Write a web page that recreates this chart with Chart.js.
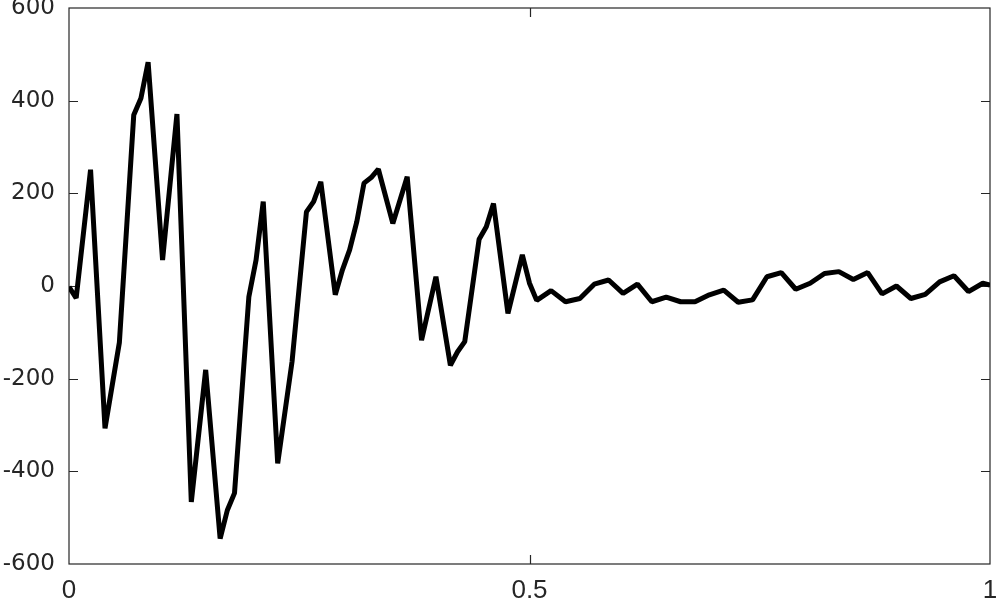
<!DOCTYPE html>
<html>
<head>
<meta charset="utf-8">
<title>signal</title>
<script src="https://cdn.jsdelivr.net/npm/chart.js@4/dist/chart.umd.min.js"></script>
<style>
  html, body { margin: 0; padding: 0; background: #fff; }
  #wrap { width: 997px; height: 598px; position: relative; }
</style>
</head>
<body>
<div id="wrap"><canvas id="sigChart"></canvas></div>
<script>
// положения вершин по оси x (доли от 0 до 1)
const xValues = [
  0, 0.0078, 0.0234, 0.0391, 0.0547, 0.0703, 0.0781, 0.0859, 0.1016, 0.1172,
  0.1328, 0.1484, 0.1641, 0.1719, 0.1797, 0.1953, 0.2031, 0.2109, 0.2266, 0.2422,
  0.2578, 0.2656, 0.2734, 0.2891, 0.2969, 0.3047, 0.3125, 0.3203, 0.3281, 0.3359,
  0.3516, 0.3672, 0.3828, 0.3984, 0.4141, 0.4219, 0.4297, 0.4453, 0.4531, 0.4609,
  0.4766, 0.4922, 0.5, 0.5078, 0.5234, 0.5391, 0.5547, 0.5703, 0.5859, 0.6016,
  0.6172, 0.6328, 0.6484, 0.6641, 0.6797, 0.6953, 0.7109, 0.7266, 0.7422, 0.7578,
  0.7734, 0.7891, 0.8047, 0.8203, 0.8359, 0.8516, 0.8672, 0.8828, 0.8984, 0.9141,
  0.9297, 0.9453, 0.9609, 0.9766, 0.9922, 1
];

// значения сигнала в этих точках
const yValues = [
  -2, -26, 251, -307, -122, 369, 405, 483, 56, 371,
  -466, -181, -545, -484, -447, -23, 56, 182, -383, -163,
  160, 182, 225, -19, 35, 78, 139, 222, 234, 252,
  135, 236, -117, 20, -171, -142, -120, 101, 128, 178,
  -59, 67, 6, -31, -10, -34, -27, 4, 13, -16,
  4, -34, -24, -34, -34, -19, -9, -35, -30, 20,
  29, -7, 6, 27, 31, 14, 29, -17, 0, -27,
  -18, 9, 22, -12, 6, 2
];

// подписи осей
const xTicks = [0, 0.5, 1];
const yTicks = [-600, -400, -200, 0, 200, 400, 600];

const axisColor = '#262626';

// рамка и засечки внутрь (как в MATLAB)
const framePlugin = {
  id: 'frame',
  beforeDatasetsDraw(chart) {
    const { ctx, chartArea: a, scales } = chart;
    ctx.save();
    ctx.strokeStyle = axisColor;
    ctx.lineWidth = 1.2;
    ctx.strokeRect(a.left, a.top, a.right - a.left, a.bottom - a.top);
    const len = 9;
    ctx.beginPath();
    yTicks.forEach(v => {
      if (v === yTicks[0] || v === yTicks[yTicks.length - 1]) return;
      const y = Math.round(scales.y.getPixelForValue(v)) + 0.5;
      ctx.moveTo(a.left, y); ctx.lineTo(a.left + len, y);
      ctx.moveTo(a.right, y); ctx.lineTo(a.right - len, y);
    });
    xTicks.forEach(v => {
      if (v === xTicks[0] || v === xTicks[xTicks.length - 1]) return;
      const x = Math.round(scales.x.getPixelForValue(v)) + 0.5;
      ctx.moveTo(x, a.bottom); ctx.lineTo(x, a.bottom - len);
      ctx.moveTo(x, a.top); ctx.lineTo(x, a.top + len);
    });
    ctx.stroke();
    ctx.restore();
  }
};

const points = xValues.map((x, i) => ({ x: x, y: yValues[i] }));

new Chart(document.getElementById('sigChart'), {
  type: 'line',
  data: {
    datasets: [{
      data: points,
      borderColor: '#000',
      borderWidth: 5,
      borderJoinStyle: 'bevel',
      pointRadius: 0,
      tension: 0,
      fill: false
    }]
  },
  options: {
    responsive: true,
    maintainAspectRatio: false,
    animation: false,
    layout: { padding: { top: 8, right: 7, left: 0, bottom: 0 } },
    plugins: { legend: { display: false }, tooltip: { enabled: false } },
    scales: {
      x: {
        type: 'linear',
        min: 0, max: 1,
        afterBuildTicks: s => { s.ticks = xTicks.map(v => ({ value: v })); },
        afterFit: s => { s.height = 34; s.paddingLeft = 0; s.paddingRight = 0; },
        grid: { display: false, drawTicks: false },
        border: { display: false },
        ticks: {
          color: axisColor,
          padding: 11,
          maxRotation: 0,
          callback: v => String(v),
          font: { family: 'Liberation Sans', size: 26 }
        }
      },
      y: {
        min: -600, max: 600,
        afterBuildTicks: s => { s.ticks = yTicks.map(v => ({ value: v })); },
        afterFit: s => { s.width = 69; s.paddingTop = 0; s.paddingBottom = 0; },
        grid: { display: false, drawTicks: false },
        border: { display: false },
        ticks: {
          color: axisColor,
          padding: 14,
          callback: v => String(v),
          font: { family: 'DejaVu Sans', size: 23 }
        }
      }
    }
  },
  plugins: [framePlugin]
});
</script>
</body>
</html>
